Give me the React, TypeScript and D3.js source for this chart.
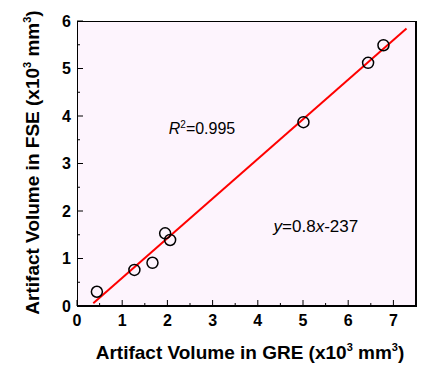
import * as d3 from 'd3';
import React from 'react';

// artifact volumes (x10^3 mm^3)
const greVolume = [0.44, 1.27, 1.67, 1.95, 2.06, 5.01, 6.44, 6.78];
const fseVolume = [0.3, 0.76, 0.91, 1.53, 1.39, 3.87, 5.12, 5.49];
// fitted line, end points as drawn
const fitX = [0.36, 7.29];
const fitY = [0.06, 5.84];
const xTicks = [0, 1, 2, 3, 4, 5, 6, 7];
const yTicks = [0, 1, 2, 3, 4, 5, 6];

const W = 427;
const H = 373;
const margin = { top: 21, right: 11, bottom: 67, left: 77 };

const App = () => {
  const width = W - margin.left - margin.right;
  const height = H - margin.top - margin.bottom;

  const x = d3.scaleLinear().domain([0, 7.5]).range([0, width]);
  const y = d3.scaleLinear().domain([0, 6]).range([height, 0]);

  const xMinor = d3.range(0.5, 7.5, 1);
  const yMinor = d3.range(0.5, 6, 1);

  const fitLine = d3
    .line<number>()
    .x(d => x(fitX[d]))
    .y(d => y(fitY[d]));

  const font = 'Arial, "Liberation Sans", sans-serif';

  return (
    <svg
      width={W}
      height={H}
      style={{ position: 'absolute', left: 0, top: 0, fontFamily: font }}
    >
      <g transform={`translate(${margin.left},${margin.top})`}>
        <rect x={0} y={0} width={width} height={height} fill="#fdf4fd" />

        {xTicks.map(t => (
          <g key={`xt${t}`}>
            <line x1={x(t)} x2={x(t)} y1={height} y2={height - 6} stroke="#000" />
            <text
              x={x(t)}
              y={height + 20}
              textAnchor="middle"
              fontSize={16}
              fontWeight="bold"
            >
              {t}
            </text>
          </g>
        ))}
        {xMinor.map(t => (
          <line key={`xm${t}`} x1={x(t)} x2={x(t)} y1={height} y2={height - 3} stroke="#000" />
        ))}

        {yTicks.map(t => (
          <g key={`yt${t}`}>
            <line x1={0} x2={6} y1={y(t)} y2={y(t)} stroke="#000" />
            <text
              x={-6}
              y={y(t) + 5.5}
              textAnchor="end"
              fontSize={16}
              fontWeight="bold"
            >
              {t}
            </text>
          </g>
        ))}
        {yMinor.map(t => (
          <line key={`ym${t}`} x1={0} x2={3} y1={y(t)} y2={y(t)} stroke="#000" />
        ))}

        {/* frame, heavier on right and bottom */}
        <line x1={0} x2={width} y1={0.5} y2={0.5} stroke="#000" />
        <line x1={0.5} x2={0.5} y1={0} y2={height} stroke="#000" />
        <line x1={width} x2={width} y1={0} y2={height + 1} stroke="#000" strokeWidth={2} />
        <line x1={0} x2={width + 1} y1={height} y2={height} stroke="#000" strokeWidth={2} />

        <path d={fitLine([0, 1]) || ''} stroke="#ff0000" strokeWidth={2} fill="none" />

        {greVolume.map((v, i) => (
          <circle
            key={i}
            cx={x(v)}
            cy={y(fseVolume[i])}
            r={5.5}
            fill="none"
            stroke="#000"
            strokeWidth={1.5}
          />
        ))}

        <text x={x(2.03)} y={y(3.62)} fontSize={16}>
          <tspan fontStyle="italic">R</tspan>
          <tspan fontSize={10} dy={-6}>2</tspan>
          <tspan dy={6}>=0.995</tspan>
        </text>
        <text x={x(4.35)} y={y(1.56)} fontSize={17}>
          <tspan fontStyle="italic">y</tspan>
          <tspan>=0.8</tspan>
          <tspan fontStyle="italic">x</tspan>
          <tspan>-237</tspan>
        </text>
      </g>

      <text
        x={250}
        y={359}
        textAnchor="middle"
        fontSize={19}
        fontWeight="bold"
      >
        Artifact Volume in GRE (x10
        <tspan fontSize={11} dy={-8}>3</tspan>
        <tspan dy={8}> mm</tspan>
        <tspan fontSize={11} dy={-8}>3</tspan>
        <tspan dy={8}>)</tspan>
      </text>
      <text
        transform={`translate(39,${margin.top + height / 2 - 1}) rotate(-90)`}
        textAnchor="middle"
        fontSize={19}
        fontWeight="bold"
      >
        Artifact Volume in FSE (x10
        <tspan fontSize={11} dy={-8}>3</tspan>
        <tspan dy={8}> mm</tspan>
        <tspan fontSize={11} dy={-8}>3</tspan>
        <tspan dy={8}>)</tspan>
      </text>
    </svg>
  );
};

export default App;
